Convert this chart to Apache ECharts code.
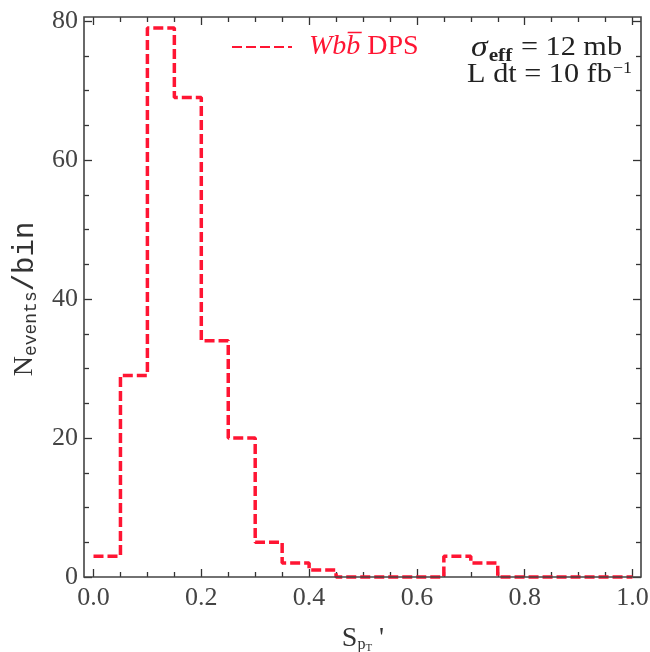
<!DOCTYPE html>
<html><head><meta charset="utf-8">
<script src="https://cdn.jsdelivr.net/npm/echarts@6/dist/echarts.min.js"></script>
<style>html,body{margin:0;padding:0;background:#fff}#c{width:650px;height:652px}</style>
</head><body><div id="c"></div>
<script>
// Bin lower edges (width 0.05) and counts per bin
const binEdges = [0.00,0.05,0.10,0.15,0.20,0.25,0.30,0.35,0.40,0.45,0.50,0.55,0.60,0.65,0.70,0.75,0.80,0.85,0.90,0.95,1.00];
const counts   = [3,29,79,69,34,20,5,2,1,0,0,0,0,3,2,0,0,0,0,0];
const xTicks = [0.0,0.2,0.4,0.6,0.8,1.0];
const yTicks = [0,20,40,60,80];
const seriesName = 'Wbb\u0305 DPS';

const pts = binEdges.map((x,i)=>[x, i<counts.length ? counts[i] : counts[counts.length-1]]);
const serif = 'Liberation Serif';
const red = '#ff1533';
const chart = echarts.init(document.getElementById('c'));
const tickStyle = {color:'#333', width:1.3};
const baseAxis = {type:'value', axisLine:{show:false, onZero:false}, splitLine:{show:false},
  axisTick:{inside:true, length:8, lineStyle:tickStyle},
  minorTick:{show:true, splitNumber:4, length:5, lineStyle:tickStyle}};
chart.setOption({
  animation:false,
  grid:{left:93.5, right:17.5, top:21, bottom:75, containLabel:false, outerBoundsMode:'none'},
  graphic:[
    {type:'rect', shape:{x:84,y:17,width:557,height:560}, style:{fill:'none', stroke:'#444', lineWidth:1.6}, z:10},
    {type:'text', x:622, y:48, scaleX:1.12, style:{text:'{g|σ}{s|eff}{t| = 12 mb}', align:'right', verticalAlign:'middle', rich:{
      g:{fontFamily:serif, fontStyle:'italic', fontSize:30, fill:'#222'},
      s:{fontFamily:serif, fontWeight:'bold', fontSize:19, fill:'#222', padding:[16,1,0,1]},
      t:{fontFamily:serif, fontSize:27, fill:'#222'}}}},
    {type:'text', x:632, y:75, scaleX:1.12, style:{text:'{t|L dt = 10 fb}{s|−1}', align:'right', verticalAlign:'middle', rich:{
      t:{fontFamily:serif, fontSize:27, fill:'#222'},
      s:{fontFamily:serif, fontSize:16, fill:'#222', padding:[0,0,12,1]}}}}
  ],
  legend:{left:231, top:33, itemWidth:60, itemGap:17, padding:0,
    data:[seriesName],
    itemStyle:{color:'transparent', borderWidth:0, opacity:0},
    formatter:()=>'{i|Wbb\u0305}{n|DPS}',
    textStyle:{rich:{i:{fontFamily:serif, fontStyle:'italic', fontSize:28, color:red, padding:[0,0,0,12]},
                     n:{fontFamily:serif, fontSize:28, color:red, padding:[0,0,0,7]}}}
  },
  xAxis:[Object.assign({}, baseAxis, {min:0, max:1, interval:0.2, position:'bottom',
    axisLabel:{fontFamily:serif, fontSize:26, color:'#444', margin:8, formatter:v=>v.toFixed(1)},
    name:'{s|S}{p|p}{t|T}{s| \'}', nameLocation:'middle', nameGap:46,
    nameTextStyle:{rich:{s:{fontFamily:serif, fontSize:28, color:'#333'},
      p:{fontFamily:serif, fontSize:16, color:'#333', padding:[12,0,0,0]},
      t:{fontFamily:serif, fontSize:11, color:'#333', padding:[20,0,0,0]}}}}),
   Object.assign({}, baseAxis, {min:0, max:1, interval:0.2, position:'top', offset:4, axisLabel:{show:false}})],
  yAxis:[Object.assign({}, baseAxis, {min:0, max:80, interval:20, position:'left', offset:9.5,
    axisLabel:{fontFamily:serif, fontSize:26, color:'#444', margin:6},
    name:'{n|N}{e|events}{b|/bin}', nameLocation:'middle', nameRotate:90, nameGap:44,
    nameTextStyle:{rich:{n:{fontFamily:serif, fontSize:28, color:'#333'},
      e:{fontFamily:'Liberation Mono', fontSize:18, color:'#333', padding:[12,0,0,0]},
      b:{fontFamily:'Liberation Mono', fontSize:29, color:'#333'}}}}),
   Object.assign({}, baseAxis, {min:0, max:80, interval:20, position:'right', offset:8.5, axisLabel:{show:false}})],
  series:[{name:seriesName, type:'line', step:'end', data:pts, showSymbol:false, symbol:'none',
    lineStyle:{color:red, width:3.5, type:[10,4]}, itemStyle:{color:red}, clip:false}]
});
</script></body></html>
